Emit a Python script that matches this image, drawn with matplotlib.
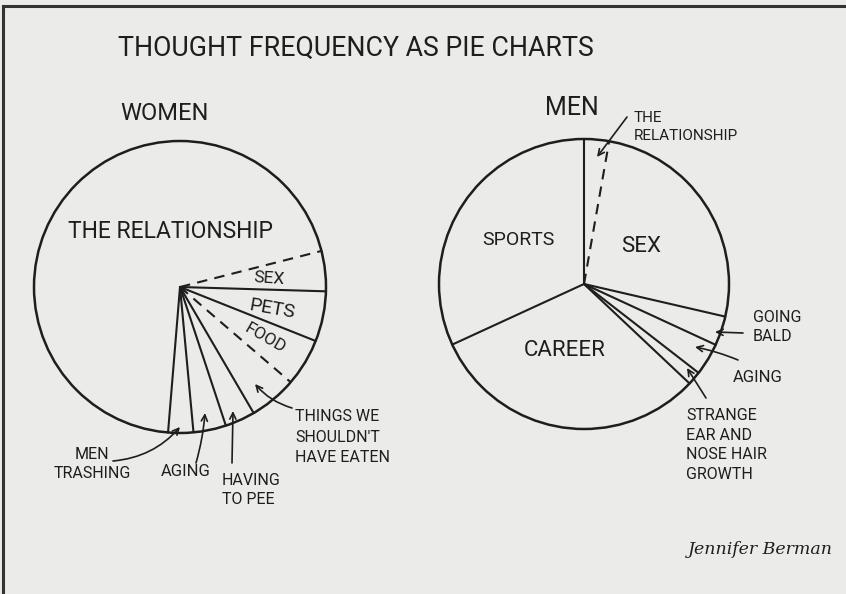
import matplotlib
matplotlib.use('Agg')
import matplotlib.pyplot as plt
from matplotlib.patches import Circle
import numpy as np

# ---- data (wedge sizes in degrees) ----
women_labels = ["SEX", "PETS", "FOOD", "THINGS WE SHOULDN'T HAVE EATEN",
                "HAVING TO PEE", "AGING", "MEN TRASHING", "THE RELATIONSHIP"]
women_values = [16, 20, 19, 19, 12, 13, 10, 251]
women_edge_styles = ['--', '-', '-', '--', '-', '-', '-', '-']

men_labels = ["THE RELATIONSHIP", "SEX", "GOING BALD", "AGING",
              "STRANGE EAR AND NOSE HAIR GROWTH", "CAREER", "SPORTS"]
men_values = [10, 93, 11.8, 13, 5.5, 112, 114.7]
men_edge_styles = ['-', '--', '-', '-', '-', '-', '-']

title = "THOUGHT FREQUENCY AS PIE CHARTS"

W, H = 846, 594
bg = '#ebebe9'
ink = '#1e1e1e'
FONT = ['Roboto', 'DejaVu Sans']
plt.rcParams['font.family'] = FONT

fig = plt.figure(figsize=(8.46, 5.94), dpi=100)
fig.patch.set_facecolor(bg)
ax = fig.add_axes([0, 0, 1, 1])
ax.set_facecolor(bg)


def Y(y):
    return H - y


def draw_pie(values, styles, center, radius, start):
    cx, cy = center[0], Y(center[1])
    wedges, _ = ax.pie(values, startangle=start, counterclock=False,
                       radius=radius, center=(cx, cy), frame=True,
                       wedgeprops=dict(fill=False, linewidth=0))
    ax.add_patch(Circle((cx, cy), radius, fill=False, lw=1.8, ec=ink))
    for w, ls in zip(wedges, styles):
        a = np.deg2rad(w.theta2)
        kw = dict(color=ink, lw=1.5, solid_capstyle='round')
        if ls == '--':
            kw['dashes'] = (5, 3.5)
        ax.plot([cx, cx + radius * np.cos(a)], [cy, cy + radius * np.sin(a)],
                ls=ls, **kw)


draw_pie(women_values, women_edge_styles, (180, 287), 146, 14.3)
draw_pie(men_values, men_edge_styles, (584, 284), 145, 90)

ax.set_xlim(0, W)
ax.set_ylim(0, H)
ax.set_aspect('auto')
ax.axis('off')

# frame lines (top and left edges of the scan)
ax.plot([2.5, W], [Y(5.5), Y(5.5)], color='#333333', lw=2.2)
ax.plot([2.5, 2.5], [Y(5.5), 0], color='#333333', lw=2.2)


def txt(x, y, s, size, ha='left', va='center', rot=0, ls=1.4, **kw):
    ax.text(x, Y(y), s, fontsize=size, ha=ha, va=va, rotation=rot,
            color=ink, linespacing=ls, rotation_mode='anchor', **kw)


def arrow(x0, y0, x1, y1, rad=0.0):
    ax.annotate('', xy=(x1, Y(y1)), xytext=(x0, Y(y0)),
                arrowprops=dict(arrowstyle='->,head_length=0.45,head_width=0.22',
                                color=ink, lw=1.2, shrinkA=0, shrinkB=0,
                                connectionstyle=f'arc3,rad={rad}'))


txt(118, 48, title, 19.3)
txt(120, 113, "WOMEN", 17)
txt(545, 108, "MEN", 18)

# women labels
txt(68, 232, women_labels[7], 16.5)
txt(269, 279, women_labels[0], 12.5, ha='center', rot=-4)
txt(272, 309, women_labels[1], 14, ha='center', rot=-10)
txt(265, 338, women_labels[2], 12.5, ha='center', rot=-30)
txt(295, 437, "THINGS WE\nSHOULDN'T\nHAVE EATEN", 11.5, ls=1.45)
txt(92, 464, "MEN\nTRASHING", 11.5, ha='center', multialignment='center', ls=1.3)
txt(186, 471, women_labels[5], 12, ha='center')
txt(222, 490, "HAVING\nTO PEE", 11.5, ls=1.35)

arrow(292, 408, 255, 384, rad=-0.15)
arrow(113, 461, 180, 427, rad=0.2)
arrow(196, 463, 205, 413, rad=0.05)
arrow(232, 463, 233, 411)

# men labels
txt(518, 240, men_labels[6], 14, ha='center')
txt(641, 247, men_labels[1], 16, ha='center')
txt(565, 350, men_labels[5], 16, ha='center')
txt(634, 127, "THE\nRELATIONSHIP", 11, ls=1.35)
txt(753, 327, "GOING\nBALD", 11.5, ls=1.3)
txt(733, 378, men_labels[3], 12)
txt(686, 445, "STRANGE\nEAR AND\nNOSE HAIR\nGROWTH", 11.5, ls=1.4)

arrow(627, 117, 597, 157)
arrow(743, 333, 715, 332)
arrow(738, 360, 695, 347, rad=0.05)
arrow(706, 398, 687, 368)

# signature
ax.text(760, Y(550), "Jennifer Berman", fontsize=12.5, ha='center', va='center',
        color=ink, family=['DejaVu Serif'], style='italic')

fig.savefig('out.png', dpi=100, facecolor=bg)
